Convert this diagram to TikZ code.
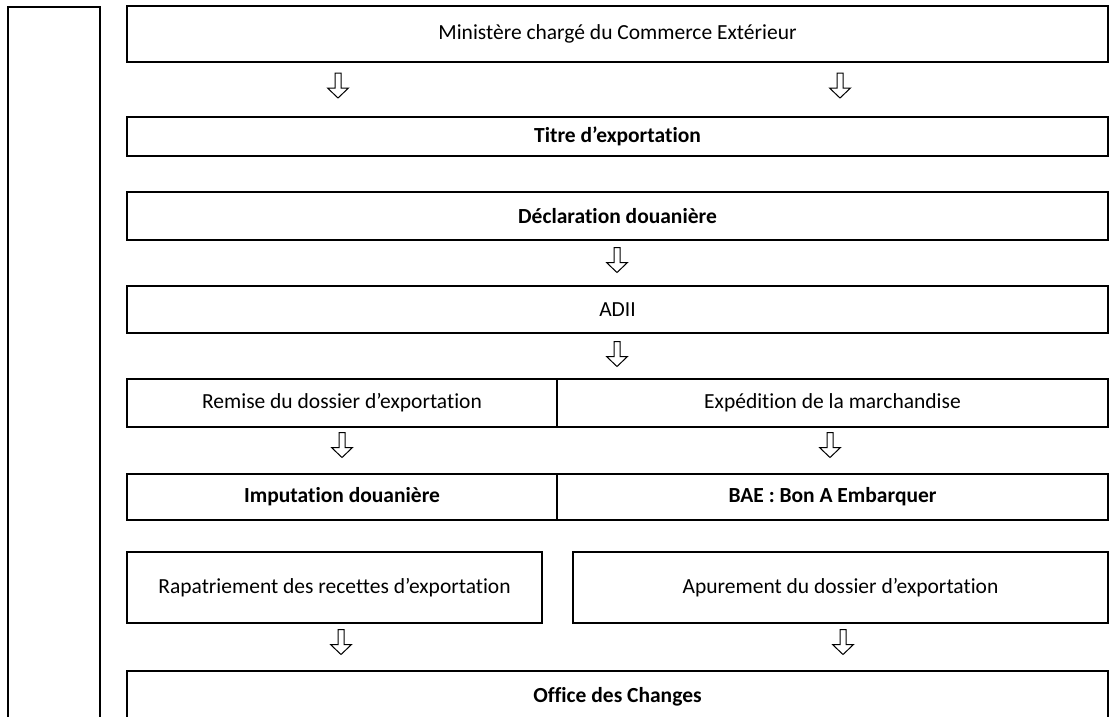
\documentclass[tikz,border=0pt]{standalone}
\usepackage{fontspec}
\setmainfont{Carlito}[Ligatures=NoCommon]
\begin{document}
\begin{tikzpicture}[x=1pt,y=-1pt,
  box/.style={draw,line width=1.6pt,inner sep=0pt,font=\fontsize{21.5}{25}\selectfont},
  bbox/.style={box,font=\fontsize{21.5}{25}\selectfont\bfseries},
  darrow/.pic={\draw[line width=1pt,fill=white] (-3,-12.5) -- (3,-12.5) -- (3,2.5) -- (10.5,2.5) -- (0,12.5) -- (-10.5,2.5) -- (-3,2.5) -- cycle;}
]
\useasboundingbox[fill=white] (0,0) rectangle (1114,716);
% left tall column
\node[box,minimum width=92pt,minimum height=740pt,anchor=north west] (col) at (7,6) {};
% boxes
\node[box,minimum width=981pt,minimum height=56pt] (min) at (617.5,34) {Ministère chargé du Commerce Extérieur};
\node[bbox,minimum width=981pt,minimum height=39pt] (titre) at (617.5,136.5) {Titre d’exportation};
\node[bbox,minimum width=981pt,minimum height=48pt] (decl) at (617.5,216) {Déclaration douanière};
\node[box,minimum width=981pt,minimum height=47pt] (adii) at (617.5,309.5) {ADII};
\node[box,minimum width=430pt,minimum height=48pt] (remise) at (342,403) {Remise du dossier d’exportation};
\node[box,minimum width=551pt,minimum height=48pt] (exped) at (832.5,403) {Expédition de la marchandise};
\node[bbox,minimum width=430pt,minimum height=46pt] (imput) at (342,497) {Imputation douanière};
\node[bbox,minimum width=551pt,minimum height=46pt] (bae) at (832.5,497) {BAE : Bon A Embarquer};
\node[box,minimum width=415pt,minimum height=71pt] (rapat) at (334.5,587.5) {Rapatriement des recettes d’exportation};
\node[box,minimum width=535pt,minimum height=71pt] (apur) at (840.5,587.5) {Apurement du dossier d’exportation};
\node[bbox,minimum width=981pt,minimum height=52pt] (office) at (617.5,697) {Office des Changes};
% arrows
\pic (a1) at (338,85.5) {darrow};
\pic (a2) at (840,85.5) {darrow};
\pic (a3) at (617,260) {darrow};
\pic (a4) at (617,354) {darrow};
\pic (a5) at (342,445) {darrow};
\pic (a6) at (830,445) {darrow};
\pic (a7) at (341,642) {darrow};
\pic (a8) at (843,642) {darrow};
\end{tikzpicture}
\end{document}
